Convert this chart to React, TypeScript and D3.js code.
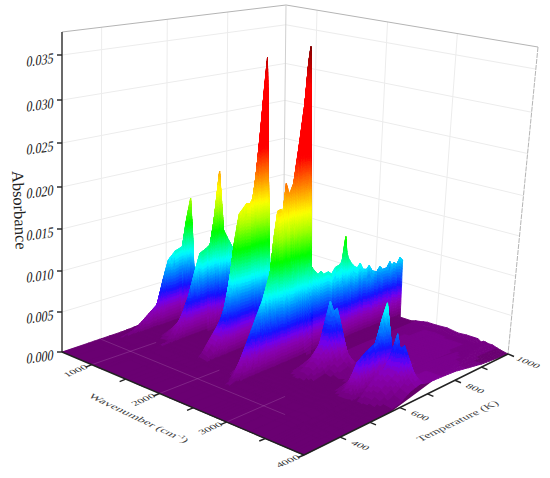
import * as d3 from "d3";

// absorbance, one series per wavenumber, each on its own temperature points
const lowT = [280, 360, 378, 395, 600, 680, 720, 1000];

const wave500T = [280, 470, 570, 620, 670, 700, 1000];
const wave500A = [0, 0.0001, 0.0004, 0.0008, 0.0012, 0.0012, 0.001];
const wave620T = [280, 484, 571, 630, 650, 670, 1000];
const wave620A = [0.0001, 0.0003, 0.002, 0.006, 0.006, 0.0012, 0.001];
const wave703T = [280, 425, 464, 484, 505, 537, 555, 571, 592, 615, 629, 642, 649, 656, 670, 1000];
const wave703A = [0.0001, 0.0003, 0.0009, 0.0015, 0.0022, 0.0033, 0.0063, 0.0086, 0.0095, 0.0098, 0.0132, 0.0157, 0.0111, 0.0047, 0.0015, 0.001];
const wave1100T = [280, 484, 567, 615, 645, 660, 700, 720, 1000];
const wave1100A = [0, 0.0001, 0.004, 0.008, 0.012, 0.008, 0.006, 0.0012, 0.001];
const wave1168T = [280, 484, 520, 547, 567, 582, 598, 615, 629, 645, 659, 675, 688, 702, 1000];
const wave1168A = [0, 0.0006, 0.0027, 0.0056, 0.0085, 0.0105, 0.0108, 0.0112, 0.0146, 0.0201, 0.0126, 0.0112, 0.0102, 0.0015, 0.001];
const wave1700T = [280, 460, 552, 599, 650, 665, 680, 1000];
const wave1700A = [0, 0, 0.005, 0.011, 0.016, 0.02, 0.004, 0.0012];
const wave1800T = [280, 460, 479, 498, 518, 538, 552, 561, 577, 599, 610, 620, 631, 644, 655, 665, 672, 679, 696, 1000];
const wave1800A = [0, 0.0002, 0.0006, 0.0016, 0.0035, 0.0072, 0.0108, 0.0135, 0.0169, 0.0179, 0.0178, 0.0184, 0.0213, 0.026, 0.0307, 0.0345, 0.0166, 0.005, 0.0013, 0.0012];
const wave2150T = [280, 500, 600, 677, 700, 1000];
const wave2150A = [0, 0, 0.004, 0.01, 0.003, 0.0015];
const wave2300T = [280, 429, 526, 590, 640, 677, 690, 1000];
const wave2300A = [0, 0, 0.003, 0.01, 0.017, 0.024, 0.007, 0.0045];
const wave2410T = [280, 400, 429, 478, 526, 552, 562, 575, 585, 590, 601, 611, 625, 642, 660, 671, 677, 684, 706, 716, 725, 741, 752, 765, 776, 785, 793, 797, 802, 808, 818, 830, 840, 850, 860, 872, 882, 893, 909, 920, 930, 945, 955, 962, 970, 980, 990, 1000];
const wave2410A = [0, 0.0001, 0.0008, 0.0048, 0.0088, 0.0119, 0.0153, 0.0186, 0.0187, 0.0181, 0.0215, 0.0202, 0.0214, 0.0255, 0.0304, 0.035, 0.0365, 0.0108, 0.0097, 0.01, 0.0095, 0.0096, 0.0092, 0.0099, 0.01, 0.0103, 0.0108, 0.0133, 0.0112, 0.0105, 0.0098, 0.0092, 0.0089, 0.0094, 0.0085, 0.0083, 0.0087, 0.0079, 0.0075, 0.0081, 0.0076, 0.0076, 0.0083, 0.0077, 0.008, 0.0076, 0.0084, 0.0079];
const wave2680T = [280, 539, 640, 675, 691, 710, 1000];
const wave2680A = [0, 0.0001, 0.0015, 0.003, 0.0012, 0.0003, 0.0004];
const wave2747T = [280, 539, 594, 640, 658, 675, 691, 707, 1000];
const wave2747A = [0, 0.0002, 0.001, 0.003, 0.0055, 0.0077, 0.003, 0.0006, 0.0005];
const moundT = [280, 540, 600, 640, 660, 675, 691, 710, 800, 900, 1000];
const wave2801A = [0, 0.0003, 0.0018, 0.0038, 0.0056, 0.0066, 0.0025, 0.0005, 0.0007, 0.0007, 0.0006];
const wave2855A = [0, 0.0003, 0.002, 0.004, 0.0058, 0.0071, 0.0025, 0.0005, 0.0007, 0.0008, 0.0007];
const mountT = [280, 540, 600, 640, 675, 691, 710, 800, 900, 1000];
const wave2928A = [0, 0.0002, 0.0016, 0.003, 0.0048, 0.0015, 0.0005, 0.0008, 0.0008, 0.0007];
const wave3000A = [0, 0.0001, 0.0006, 0.0015, 0.0022, 0.0008, 0.0005, 0.0008, 0.0008, 0.0007];
const wave3150A = [0, 0, 0.0002, 0.0005, 0.0008, 0.0006, 0.0005, 0.0008, 0.0009, 0.0008];
const wave3300A = [0, 0.0001, 0.0006, 0.0012, 0.0018, 0.001, 0.0006, 0.0009, 0.0009, 0.0006];
const wave3420A = [0, 0.0004, 0.0022, 0.003, 0.0042, 0.002, 0.0007, 0.001, 0.0009, 0.0007];
const wave3531T = [280, 520, 544, 577, 607, 643, 661, 679, 691, 707, 800, 900, 1000];
const wave3531A = [0, 0, 0.0006, 0.0041, 0.0049, 0.0055, 0.0079, 0.0096, 0.005, 0.0014, 0.0011, 0.0009, 0.0007];
const wave3578A = [0, 0.0005, 0.003, 0.0038, 0.0064, 0.0022, 0.0012, 0.0012, 0.0009, 0.0007];
const wave3656A = [0, 0.0003, 0.0022, 0.003, 0.0052, 0.002, 0.0012, 0.0012, 0.0008, 0.0006];
const wave3688A = [0, 0.0003, 0.002, 0.003, 0.0065, 0.002, 0.0012, 0.0012, 0.0008, 0.0006];
const wave3719A = [0, 0.0002, 0.0018, 0.0026, 0.0048, 0.002, 0.0012, 0.0012, 0.0007, 0.0005];
const wave3781A = [0, 0.0002, 0.0016, 0.0024, 0.0054, 0.002, 0.0012, 0.0012, 0.0007, 0.0005];
const wave3853A = [0, 0.0001, 0.0012, 0.002, 0.0038, 0.0018, 0.0013, 0.0011, 0.0005, 0.0003];
const wave3894A = [0, 0.0001, 0.0008, 0.0016, 0.0027, 0.0016, 0.0013, 0.0011, 0.0004, 0.0002];
const wave4000A = [0, 0.0001, 0.0005, 0.0013, 0.0016, 0.0014, 0.0013, 0.0011, 0.0004, 0];

const lowFront = [0.0001, 0.0001, 0.0001, 0.0001, 0.0002, 0.0005, 0.0008, 0.001];
const lowBlob = [0, 0.0001, 0.0005, 0.0001, 0.0002, 0.0005, 0.0008, 0.001];
const lowRight = [0, 0, 0, 0, 0.0001, 0.0002, 0.0002, 0.0002];
const lowBlobRight = [0, 0.0002, 0.0005, 0.0001, 0.0002, 0.0006, 0.0004, 0.0004];

const spectra: [number, number[], number[]][] = [
  [500, wave500T, wave500A],
  [620, wave620T, wave620A],
  [703, wave703T, wave703A],
  [718, lowT, lowFront],
  [900, lowT, lowFront],
  [1100, wave1100T, wave1100A],
  [1168, wave1168T, wave1168A],
  [1182, lowT, lowFront],
  [1400, lowT, lowFront],
  [1475, lowT, lowBlob],
  [1560, lowT, lowFront],
  [1640, lowT, lowBlob],
  [1700, wave1700T, wave1700A],
  [1800, wave1800T, wave1800A],
  [1815, lowT, lowFront],
  [2000, lowT, lowFront],
  [2150, wave2150T, wave2150A],
  [2300, wave2300T, wave2300A],
  [2410, wave2410T, wave2410A],
  [2424, lowT, lowRight],
  [2600, lowT, lowRight],
  [2680, wave2680T, wave2680A],
  [2747, wave2747T, wave2747A],
  [2801, moundT, wave2801A],
  [2855, moundT, wave2855A],
  [2928, mountT, wave2928A],
  [3000, mountT, wave3000A],
  [3150, mountT, wave3150A],
  [3300, mountT, wave3300A],
  [3420, mountT, wave3420A],
  [3531, wave3531T, wave3531A],
  [3578, mountT, wave3578A],
  [3625, lowT, lowBlobRight],
  [3656, mountT, wave3656A],
  [3688, mountT, wave3688A],
  [3719, mountT, wave3719A],
  [3781, mountT, wave3781A],
  [3853, mountT, wave3853A],
  [3894, mountT, wave3894A],
  [4000, mountT, wave4000A],
];

const absTicks = [0, 0.005, 0.01, 0.015, 0.02, 0.025, 0.03, 0.035];
const waveTicks = [1000, 2000, 3000, 4000];
const waveMinor = [1500, 2500, 3500];
const tempTicks = [400, 600, 800, 1000];
const tempMinor = [500, 700, 900];

// rainbow levels of the surface
const levelStops = [0, 0.0005, 0.0013, 0.0025, 0.0035, 0.0047, 0.007, 0.0088, 0.0105, 0.0125, 0.0155, 0.0176, 0.0205, 0.024, 0.032, 0.0375];
const levelColors = ["#640068", "#730080", "#800095", "#8a00b8", "#7000f0", "#1414ff", "#0090ff", "#00ffff", "#00ff90", "#00ff00", "#aaff00", "#ffff00", "#ff9000", "#ff0000", "#ff0000", "#600000"];
const color = d3.scaleLinear<string>().domain(levelStops).range(levelColors).clamp(true);

// box corners in pixels: floor and ceiling
const L = [62, 352], F = [304, 455], R = [508, 354], B = [283, 280];
const TL = [62, 32], TF = [270, 70], TR = [538, 47], TB = [286, 5];

const uScale = d3.scaleLinear().domain([500, 1000, 2000, 3000, 4000]).range([0, 0.123, 0.403, 0.68, 1]);
const vScale = d3.scaleLinear().domain([280, 400, 600, 800, 1000]).range([0, 0.177, 0.47, 0.74, 1]);
const zScale = d3.scaleLinear()
  .domain([0, 0.005, 0.01, 0.015, 0.02, 0.025, 0.03, 0.035, 0.0375])
  .range([0, 40, 81, 123, 165, 209, 252, 297, 320].map((d) => d / 320));

const mix = (a: number[], b: number[], t: number) => [a[0] + (b[0] - a[0]) * t, a[1] + (b[1] - a[1]) * t];
const bilinear = (p0: number[], p1: number[], p2: number[], p3: number[], u: number, v: number) =>
  mix(mix(p0, p1, u), mix(p3, p2, u), v);

const project = (u: number, v: number, a: number) => {
  const floor = bilinear(L, F, R, B, u, v);
  const top = bilinear(TL, TF, TR, TB, u, v);
  return mix(floor, top, zScale(a));
};

const serif = "'Liberation Serif', 'Times New Roman', serif";
const fmt = d3.format(".3f");

const quad = (pts: number[][]) => "M" + pts.map((p) => p[0].toFixed(1) + "," + p[1].toFixed(1)).join("L") + "Z";
const seg = (a: number[], b: number[]) => `M${a[0]},${a[1]}L${b[0]},${b[1]}`;

function buildSurface() {
  const rows = Array.from(new Set(spectra.flatMap((s) => s[1]))).sort(d3.ascending);
  const cols = spectra.map(([wave, temps, abs]) => {
    const line = d3.scaleLinear().domain(temps).range(abs).clamp(true);
    return { u: uScale(wave), z: rows.map((t) => line(t)) };
  });
  const vs = rows.map((t) => vScale(t));
  const cells: { d: string; c: string }[] = [];
  const band = 0.0004;
  for (let j = rows.length - 2; j >= 0; j--) {
    for (let i = 0; i < cols.length - 1; i++) {
      const z00 = cols[i].z[j], z10 = cols[i + 1].z[j], z01 = cols[i].z[j + 1], z11 = cols[i + 1].z[j + 1];
      const su = Math.min(70, Math.ceil(Math.max(Math.abs(z10 - z00), Math.abs(z11 - z01)) / band) || 1);
      const sv = Math.min(30, Math.ceil(Math.max(Math.abs(z01 - z00), Math.abs(z11 - z10)) / band) || 1);
      const at = (a: number, b: number) => {
        const z = (z00 * (1 - a) + z10 * a) * (1 - b) + (z01 * (1 - a) + z11 * a) * b;
        return {
          z,
          p: project(cols[i].u + (cols[i + 1].u - cols[i].u) * a, vs[j] + (vs[j + 1] - vs[j]) * b, z),
        };
      };
      for (let m = sv - 1; m >= 0; m--) {
        for (let n = 0; n < su; n++) {
          const c = [at(n / su, m / sv), at((n + 1) / su, m / sv), at((n + 1) / su, (m + 1) / sv), at(n / su, (m + 1) / sv)];
          const mean = d3.mean(c, (d) => d.z) as number;
          cells.push({ d: quad(c.map((d) => d.p)), c: color(Math.floor(mean / band) * band + band / 2) });
        }
      }
    }
  }
  return cells;
}

const cells = buildSurface();

export default function App() {
  const wallGrid = "#ececec";
  const zs = absTicks.slice(1);
  // the surface lifts off the temperature axis above about 570 K, so the backing stops short there
  const backing = [L, F, project(1, vScale(570), 0), project(0.88, 1, 0), B];
  return (
    <svg width={550} height={478} style={{ position: "absolute", left: 0, top: 0 }} fontFamily={serif}>
      <rect width={550} height={478} fill="white" />
      {/* walls */}
      <g fill="none" stroke={wallGrid} strokeWidth={1}>
        {zs.map((a) => (
          <path key={a} d={seg(project(0, 0, a), project(0, 1, a)) + seg(project(0, 1, a), project(1, 1, a))} />
        ))}
        {[400, 600, 800].map((t) => (
          <path key={t} d={seg(project(0, vScale(t), 0), project(0, vScale(t), 0.0375))} />
        ))}
        {[1000, 2000, 3000].map((w) => (
          <path key={w} d={seg(project(uScale(w), 1, 0), project(uScale(w), 1, 0.0375))} />
        ))}
      </g>
      <g fill="none" stroke="#b4b4b4" strokeWidth={1}>
        <path d={seg(TL, TB) + seg(TB, TR)} />
        <path d={seg(TR, R)} strokeDasharray="5 1" />
        <path d={seg(TB, B)} stroke="#d0d0d0" />
      </g>

      {/* surface, on a floor of its lowest colour so no white shows at the seams */}
      <path d={quad(backing)} fill={levelColors[0]} />
      <g strokeWidth={0.9} strokeLinejoin="round">
        {cells.map((c, i) => (
          <path key={i} d={c.d} fill={c.c} stroke={c.c} />
        ))}
      </g>

      {/* floor grid seen on the low part of the surface */}
      <g fill="none" stroke="#d0a0d0" strokeOpacity={0.28} strokeWidth={0.8}>
        <path d={seg(project(uScale(1000), 0, 0), project(uScale(1000), vScale(480), 0))} />
        <path d={seg(project(uScale(2000), 0, 0), project(uScale(2000), vScale(470), 0))} />
        <path d={seg(project(uScale(3000), 0, 0), project(uScale(3000), vScale(470), 0))} />
        <path d={seg(project(0, vScale(400), 0), project(uScale(3000) + 0.09, vScale(400), 0))} />
      </g>

      {/* axes */}
      <g fill="none" stroke="#222" strokeWidth={1.4}>
        <path d={seg(TL, L)} stroke="#444" strokeWidth={1.6} />
        <path d={seg(L, F) + seg(F, R)} />
        {absTicks.map((a) => {
          const p = project(0, 0, a);
          return <path key={a} d={seg(p, [p[0] - 5, p[1]])} />;
        })}
        {[...waveTicks, ...waveMinor].map((w) => {
          const p = project(uScale(w), 0, 0);
          return <path key={w} d={seg(p, [p[0] - 6, p[1] + 2.5])} />;
        })}
        {[...tempTicks, ...tempMinor].map((t) => {
          const p = project(1, vScale(t), 0);
          return <path key={t} d={seg(p, [p[0] + 6, p[1] + 2.5])} />;
        })}
      </g>

      {/* tick labels */}
      <g fontSize={15} fill="#111" textAnchor="end">
        {absTicks.map((a) => {
          const p = project(0, 0, a);
          return (
            <text key={a} transform={`matrix(0.8,-0.11,-0.12,1,53,${p[1] + 8})`}>
              {fmt(a)}
            </text>
          );
        })}
      </g>
      <g fontSize={12} fill="#333" textAnchor="middle">
        {waveTicks.map((w) => {
          const p = project(uScale(w), 0, 0);
          return (
            <text key={w} transform={`matrix(0.9,-0.4,0.55,0.45,${p[0] - 14},${p[1] + 8})`}>
              {w}
            </text>
          );
        })}
        {tempTicks.map((t) => {
          const p = project(1, vScale(t), 0);
          return (
            <text key={t} transform={`matrix(0.9,0.38,-0.55,0.42,${p[0] + 18},${p[1] + 10})`}>
              {t}
            </text>
          );
        })}
      </g>

      {/* axis titles */}
      <text fontSize={16.5} fill="#222" transform="matrix(0.05,1,-1,0.05,12,171)">
        Absorbance
      </text>
      <text fontSize={13.5} fill="#444" textAnchor="middle" transform="matrix(0.9,0.43,-0.6,0.4,136,420)">
        Wavenumber (cm
        <tspan fontSize={9} dy={-5}>
          -1
        </tspan>
        <tspan dy={5}>)</tspan>
      </text>
      <text fontSize={13.5} fill="#444" textAnchor="middle" transform="matrix(0.88,-0.42,0.55,0.45,460,423)">
        Temperature (K)
      </text>
    </svg>
  );
}
